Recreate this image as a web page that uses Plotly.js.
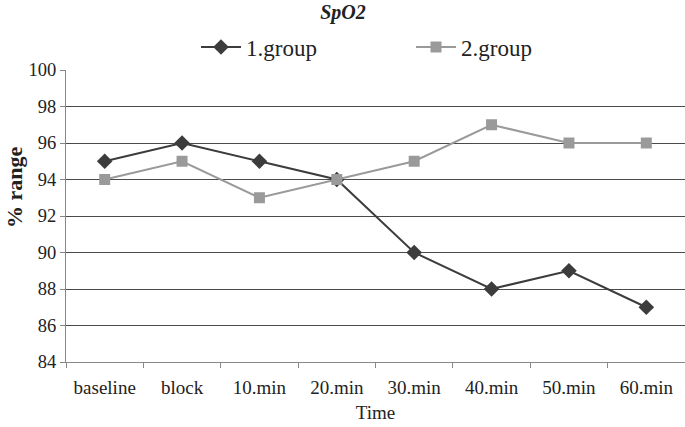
<!DOCTYPE html>
<html><head><meta charset="utf-8">
<script src="https://cdn.plot.ly/plotly-3.0.1.min.js"></script>
<style>body{margin:0;background:#fff}#c{width:685px;height:427px}</style>
</head><body><div id="c"></div>
<script>
const categories = ["baseline","block","10.min","20.min","30.min","40.min","50.min","60.min"];
const group1 = [95,96,95,94,90,88,89,87];
const group2 = [94,95,93,94,95,97,96,96];
const yTicks = [84,86,88,90,92,94,96,98,100];

const fam = "Liberation Serif, Times New Roman, serif";
const traces = [
  {x:categories, y:group1, name:"1.group", type:"scatter", mode:"lines+markers",
   line:{color:"#3c3c3c", width:2}, marker:{symbol:"diamond", size:12, color:"#3c3c3c"}},
  {x:categories, y:group2, name:"2.group", type:"scatter", mode:"lines+markers",
   line:{color:"#9a9a9a", width:2}, marker:{symbol:"square", size:11, color:"#9a9a9a"}}
];
const layout = {
  width:685, height:427,
  margin:{l:66, r:0, t:70, b:65, autoexpand:false},
  paper_bgcolor:"#fff", plot_bgcolor:"#fff",
  font:{family:fam, color:"#222", size:17},
  title:{text:"<b><i>SpO2</i></b>", x:343/685, xref:"container", xanchor:"center", y:1-12/427, yref:"container", yanchor:"middle",
         font:{family:fam, size:20, color:"#222"}},
  showlegend:true,
  legend:{orientation:"h", x:(196-66)/619, xanchor:"left", y:(362-47)/292, yanchor:"middle",
          font:{family:fam, size:23, color:"#222"}, itemwidth:40, entrywidth:160, tracegroupgap:0},
  annotations:[{text:"<b>% range</b>", textangle:-90, xref:"paper", yref:"paper",
                x:(14-66)/619, y:(362-187)/292, xanchor:"center", yanchor:"middle", showarrow:false,
                font:{family:fam, size:22, color:"#222"}}],
  xaxis:{type:"category", tickson:"boundaries", ticks:"outside", ticklen:5, tickcolor:"#888",
         showline:true, linecolor:"#888", linewidth:1, showgrid:false, zeroline:false,
         range:[-0.5, 7.5], ticklabelstandoff:8, tickfont:{family:fam, size:19, color:"#222"},
         title:{text:"Time", font:{family:fam, size:19, color:"#222"}, standoff:8}},
  yaxis:{range:[84,100], tickvals:yTicks, ticktext:yTicks.map(String), ticks:"outside", ticklen:5, tickcolor:"#888",
         showline:true, linecolor:"#888", linewidth:1, showgrid:true, gridcolor:"#4a4a4a", gridwidth:1,
         zeroline:false, tickfont:{family:fam, size:18.5, color:"#222"}}
};
Plotly.newPlot("c", traces, layout, {displayModeBar:false, staticPlot:true});
</script></body></html>
